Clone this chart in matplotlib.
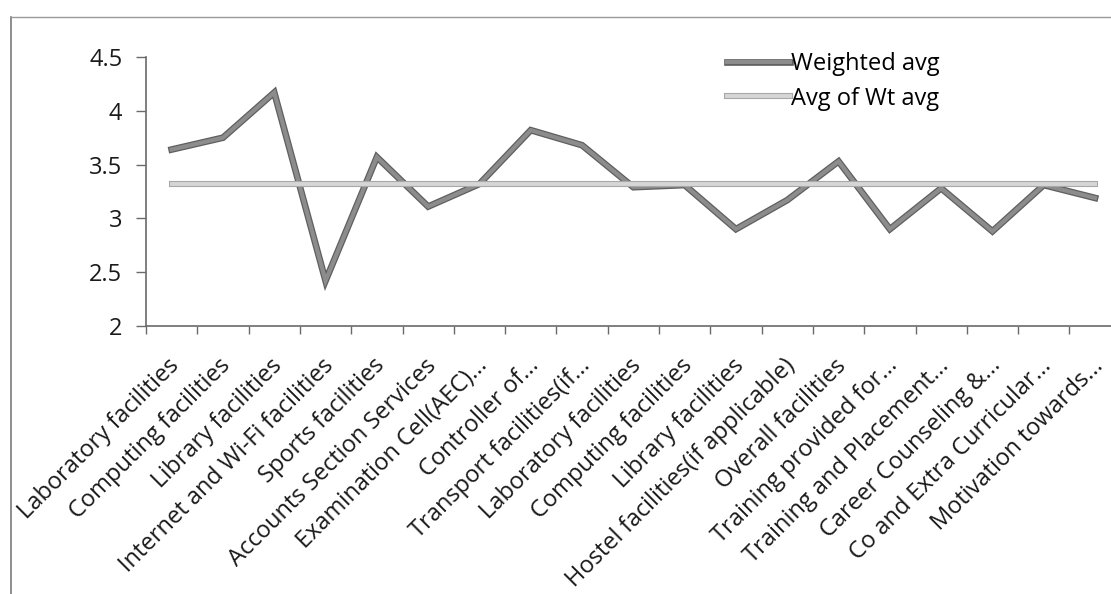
import matplotlib
matplotlib.use("Agg")
import matplotlib.pyplot as plt
import matplotlib.patheffects as pe
import matplotlib.transforms as mtransforms
from matplotlib.lines import Line2D

plt.rcParams['font.family'] = ['Open Sans', 'DejaVu Sans']

# data
categories = [
    "Laboratory facilities", "Computing facilities", "Library facilities",
    "Internet and Wi-Fi facilities", "Sports facilities", "Accounts Section Services",
    "Examination Cell(AEC)...", "Controller of...", "Transport facilities(if...",
    "Laboratory facilities", "Computing facilities", "Library facilities",
    "Hostel facilities(if applicable)", "Overall facilities", "Training provided for...",
    "Training and Placement...", "Career Counseling &...", "Co and Extra Curricular...",
    "Motivation towards...",
]
weighted_avg = [3.64, 3.75, 4.17, 2.42, 3.57, 3.11, 3.32, 3.82, 3.68, 3.29,
                3.31, 2.90, 3.17, 3.53, 2.90, 3.28, 2.88, 3.31, 3.19]
avg_of_wt_avg = [3.32] * len(categories)
y_ticks = [2, 2.5, 3, 3.5, 4, 4.5]
y_tick_labels = ["2", "2.5", "3", "3.5", "4", "4.5"]

fig = plt.figure(figsize=(11.11, 5.94), dpi=100)
W, H = 1111, 594

# chart border (cropped scan: only top and left edges visible)
fig.add_artist(Line2D([11 / W, 11 / W], [0, 1 - 17 / H], transform=fig.transFigure,
                      color='#7a7a7a', lw=1.2))
fig.add_artist(Line2D([11 / W, 1], [1 - 17 / H, 1 - 17 / H], transform=fig.transFigure,
                      color='#9a9a9a', lw=1.0))

left, right = 146 / W, (146 + 19 * 51.3) / W
bottom, top = 1 - 326 / H, 1 - 57 / H
ax = fig.add_axes([left, bottom, right - left, top - bottom])

x = list(range(len(categories)))
ax.plot(x, weighted_avg, color='#8c8c8c', lw=3.0, solid_joinstyle='miter',
        label='Weighted avg',
        path_effects=[pe.Stroke(linewidth=4.8, foreground='#5f5f5f'), pe.Normal()])
ax.plot(x, avg_of_wt_avg, color='#d6d6d6', lw=2.8, label='Avg of Wt avg',
        path_effects=[pe.Stroke(linewidth=4.4, foreground='#a8a8a8'), pe.Normal()])

ax.set_xlim(-0.5, len(categories) - 0.5)
ax.set_ylim(2, 4.5)
ax.set_yticks(y_ticks)
ax.set_yticklabels(y_tick_labels, fontsize=17, color='#1a1a1a')
ax.tick_params(axis='y', length=7, width=1, color='#6a6a6a', pad=10)

ax.set_xticks(x)
ax.set_xticklabels(categories, rotation=45, ha='right', rotation_mode='anchor',
                   fontsize=17, color='#1a1a1a')
ax.tick_params(axis='x', which='major', length=0, pad=20)
ax.set_xticks([i - 0.5 for i in range(len(categories) + 1)], minor=True)
ax.tick_params(axis='x', which='minor', length=6, width=1, color='#6a6a6a')
shift = mtransforms.ScaledTranslation(-4 / 100, 0, fig.dpi_scale_trans)
for lab in ax.get_xticklabels():
    lab.set_transform(lab.get_transform() + shift)

for s in ['top', 'right']:
    ax.spines[s].set_visible(False)
for s in ['left', 'bottom']:
    ax.spines[s].set_color('#6a6a6a')
    ax.spines[s].set_linewidth(1.2)

ax.legend(loc='upper left', bbox_to_anchor=(727 / W, 1 - 52 / H),
          bbox_transform=fig.transFigure, frameon=False, fontsize=17,
          handlelength=2.65, handletextpad=0.05, labelspacing=0.45,
          borderpad=0, borderaxespad=0)

fig.savefig("out.png", dpi=100)
